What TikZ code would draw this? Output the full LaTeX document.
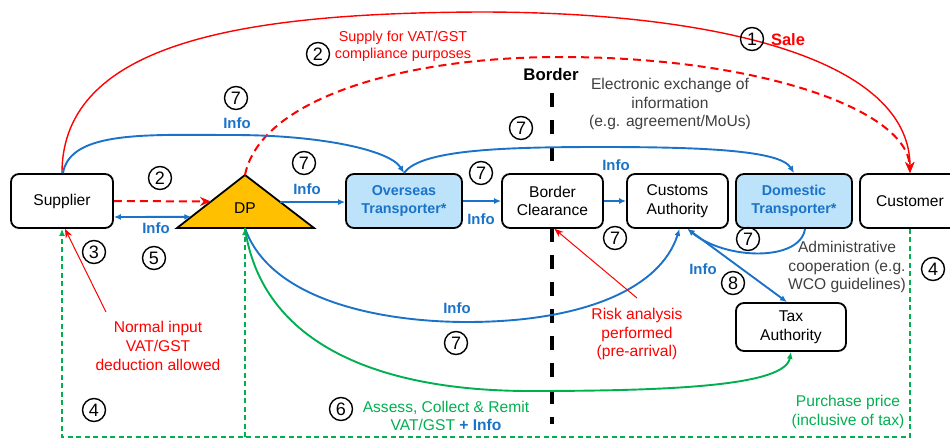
\documentclass[tikz,border=0pt]{standalone}
\usepackage{fontspec}
\setmainfont{Liberation Sans}
\usetikzlibrary{arrows.meta,calc}

\definecolor{flowred}{HTML}{FF0000}
\definecolor{infoblue}{HTML}{1A73C8}
\definecolor{taxgreen}{HTML}{00B050}
\definecolor{dpgold}{HTML}{FFC000}
\definecolor{transblue}{HTML}{BDE3FA}
\definecolor{notegray}{HTML}{3F3F3F}

\newcommand{\dgfont}{\fontsize{15.6}{18.7}\selectfont}
\newcommand{\dgsmall}{\fontsize{14.4}{17}\selectfont}
\newcommand{\dgbold}{\fontsize{14.9}{17.5}\selectfont\bfseries}

\begin{document}
\begin{tikzpicture}[x=1pt,y=-1pt,
  box/.style={draw=black,line width=1.8pt,rounded corners=8pt,fill=white,
    align=center,inner sep=0pt,minimum height=54pt,font=\dgfont},
  transbox/.style={box,fill=transblue,text=infoblue,
    font=\fontsize{14.3}{17.5}\selectfont\bfseries},
  num/.style={circle,draw=black,line width=1.4pt,minimum size=23pt,
    inner sep=0pt,font=\fontsize{18}{18}\selectfont},
  note/.style={align=center,inner sep=0pt,font=\dgfont},
  infolbl/.style={inner sep=0pt,text=infoblue,font=\dgbold},
  blueline/.style={draw=infoblue,line width=1.9pt,-{Latex[length=7pt,width=6pt]}},
  salearrow/.style={draw=flowred,line width=1.4pt,-{Stealth[length=11pt,width=9pt]}},
  supplyarrow/.style={draw=flowred,line width=2pt,dash pattern=on 8pt off 5pt,
    -{Stealth[length=11pt,width=9pt]}},
  pointer/.style={draw=flowred,line width=1pt,-{Stealth[length=9pt,width=7pt]}},
  greenline/.style={draw=taxgreen,line width=1.9pt,-{Latex[length=7pt,width=6pt]}},
  greendash/.style={draw=taxgreen,line width=1.4pt,dash pattern=on 5pt off 3.5pt,
    -{Latex[length=7pt,width=6pt]}},
  borderline/.style={draw=black,line width=4pt,dash pattern=on 14pt off 13pt}
]
\useasboundingbox (0,0) rectangle (950,439);

% border between the two jurisdictions
\coordinate (bTop) at (552,93);
\coordinate (bBot) at (552,424);
\draw[borderline] (bTop) -- (bBot);
\node[inner sep=0pt,font=\fontsize{16.8}{20}\selectfont\bfseries] (border) at (551,74) {Border};

% parties
\node[box,minimum width=102pt] (sup) at (62,201) {Supplier};
\node[transbox,minimum width=116pt] (ovs) at (404,201) {Overseas\\Transporter*};
\node[box,minimum width=101pt] (bc) at (552.5,201) {Border\\Clearance};
\node[box,minimum width=101pt] (ca) at (677.5,201) {Customs\\Authority};
\node[transbox,minimum width=116pt] (dom) at (794,201) {Domestic\\Transporter*};
\node[box,minimum width=100pt] (cust) at (910,201) {Customer};
\node[box,minimum width=110pt,minimum height=48pt] (tax) at (791,327) {Tax\\Authority};

% digital platform triangle
\coordinate (dpA) at (245,175);
\coordinate (dpL) at (177,228);
\coordinate (dpR) at (314,228);
\draw[fill=dpgold,line width=1.8pt,line join=miter] (dpL) -- (dpA) -- (dpR) -- cycle;
\node[inner sep=0pt,font=\dgfont] (dp) at (245,208) {DP};
\coordinate (dpB) at ($(dpL)!0.496!(dpR)$);
\coordinate (dpLe) at ($(dpL)!0.5!(dpA)$);
\coordinate (dpLb) at ($(dpL)!0.21!(dpA)$);
\coordinate (dpRe) at ($(dpR)!0.49!(dpA)$);

% sale and supply flows
\draw[supplyarrow] (dpA) .. controls (260,100) and (400,57) .. (560,57)
  .. controls (760,57) and (908,110) .. (cust.north);
\draw[salearrow] (sup.north) .. controls (62,40) and (250,13) .. (480,12)
  .. controls (720,12) and (910,60) .. (cust.north);
\draw[supplyarrow] (sup.east) -- (dpLe);

% information flows
\draw[blueline] ([xshift=1pt]sup.north) .. controls (70,130) and (150,135) .. (233,135)
  .. controls (320,135) and (390,150) .. (ovs.north);
\draw[blueline] (ovs.north) .. controls (420,150) and (500,147) .. (600,147)
  .. controls (700,147) and (780,150) .. (dom.north);
\draw[blueline,{Latex[length=7pt,width=6pt]}-{Latex[length=7pt,width=6pt]}]
  ([yshift=-16pt]sup.east) -- (dpLb);
\draw[blueline] (dpRe) -- (dpRe -| ovs.west);
\draw[blueline] (ovs.east) -- (bc.west);
\draw[blueline] (bc.east) -- (ca.west);
\draw[blueline] ([xshift=11pt]dom.south) .. controls (800,262) and (725,260) .. ([xshift=10pt]ca.south);
\draw[blueline] (dpB) .. controls (270,300) and (380,322) .. (467,322)
  .. controls (580,322) and (660,290) .. ([xshift=2pt]ca.south);
\draw[blueline,{Latex[length=7pt,width=6pt]}-{Latex[length=7pt,width=6pt]}]
  ([xshift=10pt]ca.south) -- ([xshift=-4pt]tax.north);

% tax remittance and payment
\draw[greenline] (dpB) .. controls (262,345) and (380,391) .. (530,391)
  .. controls (680,391) and (785,385) .. (tax.south);
\coordinate (gnd) at (500,437);
\draw[greendash] (cust.south) |- (gnd -| sup.south) -- (sup.south);
\draw[greendash] (gnd -| dpB) -- (dpB);

% notes with pointers
\node[note,text=flowred] (normal) at (158,346) {Normal input\\VAT/GST\\deduction allowed};
\coordinate (nPt) at (106,312);
\draw[pointer] (nPt) -- ([xshift=3pt]sup.south);
\node[note,text=flowred] (risk) at (637,334) {Risk analysis\\performed\\(pre-arrival)};
\coordinate (rPt) at (637,298);
\draw[pointer] (rPt) -- ([xshift=2pt]bc.south);

% other notes
\node[inner sep=0pt,text=flowred,font=\fontsize{16.5}{19}\selectfont\bfseries] (sale) at (788,40) {Sale};
\node[note,text=flowred,font=\dgsmall] (supply) at (403,46.5) {Supply for VAT/GST\\compliance purposes};
\node[note,text=notegray] (exch) at (670,104) {Electronic exchange of\\information\\(e.g. agreement/MoUs)};
\node[note,text=notegray] (admin) at (847,267) {Administrative\\cooperation (e.g.\\WCO guidelines)};
\node[note,text=taxgreen] (price) at (848,412) {Purchase price\\(inclusive of tax)};
\node[note,text=taxgreen] (remit) at (446,416) {Assess, Collect \& Remit\\VAT/GST {\bfseries\color{infoblue}+ Info}};

% info labels
\node[infolbl] (i1) at (237,123) {Info};
\node[infolbl] (i2) at (307,189) {Info};
\node[infolbl] (i3) at (156,228) {Info};
\node[infolbl] (i4) at (481,219) {Info};
\node[infolbl] (i5) at (616,165) {Info};
\node[infolbl] (i6) at (703,269) {Info};
\node[infolbl] (i7) at (457,308) {Info};

% step numbers
\node[num] (s1) at (752,39) {1};
\node[num] (s2a) at (318,54) {2};
\node[num] (s2b) at (160,178) {2};
\node[num] (s3) at (94,252) {3};
\node[num] (s4a) at (94,410) {4};
\node[num] (s4b) at (933,269) {4};
\node[num] (s5) at (154,258) {5};
\node[num] (s6) at (341,409) {6};
\node[num] (s7a) at (236,98) {7};
\node[num] (s7b) at (304,163) {7};
\node[num] (s7c) at (521,128) {7};
\node[num] (s7d) at (481,173) {7};
\node[num] (s7e) at (615,238) {7};
\node[num] (s7f) at (748,239) {7};
\node[num] (s7g) at (456,343) {7};
\node[num] (s8) at (733,283) {8};
\end{tikzpicture}
\end{document}
